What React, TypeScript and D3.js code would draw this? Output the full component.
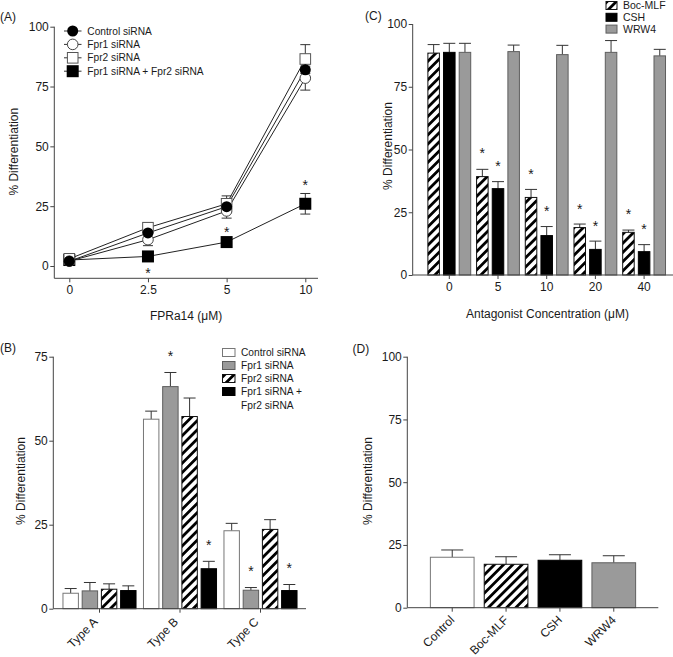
import React, { useEffect, useRef } from "react";
import * as d3 from "d3";

const FONT = "'Liberation Sans', Arial, Helvetica, sans-serif";
const AX = "#444";
const TXT = "#1a1a1a";
const GRAY = "#9a9a9a";
const GRAY_STROKE = "#5e5e5e";

// ---------- Panel A ----------
const doseLabels = ["0", "2.5", "5", "10"];
const lineNames = ["Control siRNA", "Fpr1 siRNA", "Fpr2 siRNA", "Fpr1 siRNA + Fpr2 siRNA"];
const controlMean = [2, 13.8, 24.8, 82];
const controlSem = [1, 2, 2, 3];
const fpr1Mean = [2, 11, 23, 78.5];
const fpr1Sem = [1, 2.5, 3, 5];
const fpr2Mean = [3, 16, 26, 86.5];
const fpr2Sem = [1.5, 2, 3.3, 6];
const doubleMean = [2.5, 4, 10, 26];
const doubleSem = [1, 1, 1.5, 4.3];
const aStarDose = ["2.5", "5", "10"];
const aStarValue = [-1.4, 15.5, 35.5];
const aTicks = [0, 25, 50, 75, 100];

// ---------- Panel B ----------
const bGroups = ["Type A", "Type B", "Type C"];
const bSeries = ["Control siRNA", "Fpr1 siRNA", "Fpr2 siRNA", "Fpr1 siRNA + Fpr2 siRNA"];
const bLegendLines = [["Control siRNA"], ["Fpr1 siRNA"], ["Fpr2 siRNA"], ["Fpr1 siRNA +", "Fpr2 siRNA"]];
const bControl = [4.6, 56.4, 23.2];
const bControlErr = [1.4, 2.4, 2.2];
const bFpr1 = [5.3, 66.1, 5.5];
const bFpr1Err = [2.5, 4.2, 0.8];
const bFpr2 = [5.8, 57.2, 23.6];
const bFpr2Err = [1.6, 5.5, 2.9];
const bDouble = [5.4, 11.9, 5.4];
const bDoubleErr = [1.4, 2.2, 1.8];
const bStarGroup = ["Type B", "Type B", "Type C", "Type C"];
const bStarSeries = ["Fpr1 siRNA", "Fpr1 siRNA + Fpr2 siRNA", "Fpr1 siRNA", "Fpr1 siRNA + Fpr2 siRNA"];
const bStarValue = [76.3, 20.1, 12.3, 13.2];
const bTicks = [0, 25, 50, 75];

// ---------- Panel C ----------
const cGroups = ["0", "5", "10", "20", "40"];
const cSeries = ["Boc-MLF", "CSH", "WRW4"];
const cBoc = [88.4, 39.2, 30.9, 18.9, 17];
const cBocErr = [3.4, 2.9, 3.2, 1.4, 0.9];
const cCsh = [88.7, 34.4, 15.7, 10.2, 9.3];
const cCshErr = [3.6, 2.8, 3.6, 3.3, 2.8];
const cWrw = [88.7, 89, 87.8, 88.7, 87.3];
const cWrwErr = [3.6, 2.6, 3.7, 4.7, 2.6];
const cStarGroup = ["5", "5", "10", "10", "20", "20", "40", "40"];
const cStarSeries = ["Boc-MLF", "CSH", "Boc-MLF", "CSH", "Boc-MLF", "CSH", "Boc-MLF", "CSH"];
const cStarValue = [49.9, 45, 41.8, 27, 27.6, 21, 25.6, 19.8];
const cTicks = [0, 25, 50, 75, 100];

// ---------- Panel D ----------
const dGroups = ["Control", "Boc-MLF", "CSH", "WRW4"];
const dMean = [20.1, 17.3, 18.9, 17.9];
const dErr = [2.9, 3.0, 2.2, 2.8];
const dTicks = [0, 25, 50, 75, 100];

type Sel = d3.Selection<SVGGElement, unknown, null, undefined>;

const fills: Record<string, { fill: string; stroke: string }> = {
  white: { fill: "#fff", stroke: "#777" },
  gray: { fill: GRAY, stroke: GRAY_STROKE },
  hatch: { fill: "url(#hatch)", stroke: "#111" },
  black: { fill: "#000", stroke: "#000" },
};

function yAxis(g: Sel, y: d3.ScaleLinear<number, number>, x: number, ticks: number[], top: number, bottom: number) {
  const ax = g
    .append("g")
    .attr("transform", `translate(${x},0)`)
    .call(d3.axisLeft(y).tickValues(ticks).tickSize(4).tickPadding(1.5).tickFormat(d3.format("d")));
  ax.attr("font-family", FONT).attr("font-size", 12);
  ax.select(".domain").remove();
  ax.append("line").attr("x1", 0).attr("x2", 0).attr("y1", top).attr("y2", bottom).attr("stroke", AX);
  ax.selectAll(".tick line").attr("stroke", AX);
  ax.selectAll(".tick text").attr("fill", TXT);
  return ax;
}

function xAxis(g: Sel, x: any, y0: number, left: number, right: number) {
  const ax = g
    .append("g")
    .attr("transform", `translate(0,${y0})`)
    .call(d3.axisBottom(x).tickSize(4).tickPadding(3));
  ax.attr("font-family", FONT).attr("font-size", 12);
  ax.select(".domain").remove();
  ax.append("line").attr("x1", left).attr("x2", right).attr("y1", 0).attr("y2", 0).attr("stroke", AX);
  ax.selectAll(".tick line").attr("stroke", AX);
  ax.selectAll(".tick text").attr("fill", TXT);
  return ax;
}

function text(g: Sel, x: number, y: number, s: string, size = 12, anchor = "start", rotate = 0) {
  g.append("text")
    .attr("transform", `translate(${x},${y}) rotate(${rotate})`)
    .attr("text-anchor", anchor)
    .attr("font-family", FONT)
    .attr("font-size", size)
    .attr("fill", TXT)
    .text(s);
}

function star(g: Sel, x: number, yc: number) {
  g.append("text")
    .attr("x", x)
    .attr("y", yc + 8.5)
    .attr("text-anchor", "middle")
    .attr("font-family", FONT)
    .attr("font-size", 14)
    .attr("fill", TXT)
    .text("*");
}

function barWithErr(g: Sel, x: number, w: number, y: d3.ScaleLinear<number, number>, v: number, e: number, style: string, cap: number) {
  const base = y(0);
  const f = fills[style];
  g.append("line")
    .attr("x1", x + w / 2)
    .attr("x2", x + w / 2)
    .attr("y1", y(v))
    .attr("y2", y(v + e))
    .attr("stroke", "#333");
  g.append("line")
    .attr("x1", x + w / 2 - cap / 2)
    .attr("x2", x + w / 2 + cap / 2)
    .attr("y1", y(v + e))
    .attr("y2", y(v + e))
    .attr("stroke", "#333");
  g.append("rect")
    .attr("x", x + 0.5)
    .attr("y", y(v))
    .attr("width", w - 1)
    .attr("height", base - y(v))
    .attr("fill", f.fill)
    .attr("stroke", f.stroke)
    .attr("stroke-width", 1);
}

function marker(g: Sel, kind: number, cx: number, cy: number) {
  if (kind === 0) g.append("circle").attr("cx", cx).attr("cy", cy).attr("r", 5.5).attr("fill", "#000");
  else if (kind === 1)
    g.append("circle").attr("cx", cx).attr("cy", cy).attr("r", 5.3).attr("fill", "#fff").attr("stroke", "#444");
  else if (kind === 2)
    g.append("rect").attr("x", cx - 5.3).attr("y", cy - 5.3).attr("width", 10.6).attr("height", 10.6).attr("fill", "#fff").attr("stroke", "#555");
  else g.append("rect").attr("x", cx - 6).attr("y", cy - 6).attr("width", 12).attr("height", 12).attr("fill", "#000");
}

function draw(svgEl: SVGSVGElement) {
  const svg = d3.select(svgEl);
  svg.selectAll("*").remove();
  const defs = svg.append("defs");
  const pat = defs
    .append("pattern")
    .attr("id", "hatch")
    .attr("patternUnits", "userSpaceOnUse")
    .attr("width", 6.5)
    .attr("height", 6.5)
    .attr("patternTransform", "rotate(45)");
  pat.append("rect").attr("width", 6.5).attr("height", 6.5).attr("fill", "#fff");
  pat.append("rect").attr("x", 0).attr("width", 2.8).attr("height", 6.5).attr("fill", "#000");

  const root = svg.append("g") as unknown as Sel;

  // ================= Panel A =================
  {
    const g = root.append("g") as Sel;
    const x = d3.scalePoint<string>().domain(doseLabels).range([69.3, 305.3]);
    const y = d3.scaleLinear().domain([0, 100]).range([266, 26.7]);
    yAxis(g, y, 54.3, aTicks, 26.7, 278.3);
    xAxis(g, x, 278.3, 54.3, 318);
    text(g, 0, 21, "(A)", 12);
    text(g, 18, 151.7, "% Differentiation", 12, "middle", -90);
    text(g, 186, 320, "FPRa14 (\u03bcM)", 12, "middle");

    const means = [controlMean, fpr1Mean, fpr2Mean, doubleMean];
    const sems = [controlSem, fpr1Sem, fpr2Sem, doubleSem];
    const line = d3
      .line<number>()
      .x((_, i) => x(doseLabels[i]) as number)
      .y((d) => y(d));
    const order = [3, 2, 1, 0];
    order.forEach((k) => {
      g.append("path").attr("d", line(means[k]) as string).attr("fill", "none").attr("stroke", "#222").attr("stroke-width", 1);
    });
    order.forEach((k) => {
      means[k].forEach((m, i) => {
        const cx = x(doseLabels[i]) as number;
        const e = sems[k][i];
        g.append("line").attr("x1", cx).attr("x2", cx).attr("y1", y(m - e)).attr("y2", y(m + e)).attr("stroke", "#333");
        [m - e, m + e].forEach((v) =>
          g.append("line").attr("x1", cx - 5).attr("x2", cx + 5).attr("y1", y(v)).attr("y2", y(v)).attr("stroke", "#333")
        );
      });
    });
    order.forEach((k) => {
      means[k].forEach((m, i) => marker(g, k, x(doseLabels[i]) as number, y(m)));
    });
    aStarDose.forEach((d, i) => star(g, x(d) as number, y(aStarValue[i])));

    // legend
    lineNames.forEach((name, i) => {
      const cy = 31 + i * 13.4;
      g.append("line").attr("x1", 64).attr("x2", 81.5).attr("y1", cy).attr("y2", cy).attr("stroke", "#333");
      marker(g, i, 72.7, cy);
      text(g, 87.3, cy + 3.6, name, 10.2);
    });
  }

  // ================= Panel B =================
  {
    const g = root.append("g") as Sel;
    const x = d3.scaleBand<string>().domain(bGroups).range([59.25, 300.75]).paddingInner(0.08).paddingOuter(0.04);
    const xi = d3.scaleBand<string>().domain(bSeries).range([0, x.bandwidth()]).paddingInner(0.145);
    const y = d3.scaleLinear().domain([0, 75]).range([608.7, 356.7]);
    const vals = [bControl, bFpr1, bFpr2, bDouble];
    const errs = [bControlErr, bFpr1Err, bFpr2Err, bDoubleErr];
    const styles = ["white", "gray", "hatch", "black"];
    bGroups.forEach((grp, gi) => {
      bSeries.forEach((s, si) => {
        const bx = (x(grp) as number) + (xi(s) as number);
        barWithErr(g, bx, xi.bandwidth(), y, vals[si][gi], errs[si][gi], styles[si], 12);
      });
    });
    yAxis(g, y, 53.3, bTicks, 356.7, 608.7);
    const ax = xAxis(g, x, 608.7, 53.3, 306);
    ax.selectAll(".tick text")
      .attr("y", 0)
      .attr("dy", 0)
      .attr("text-anchor", "end")
      .attr("transform", "translate(-1,14) rotate(-45)");
    bStarGroup.forEach((grp, i) => {
      const cx = (x(grp) as number) + (xi(bStarSeries[i]) as number) + xi.bandwidth() / 2;
      star(g, cx, y(bStarValue[i]));
    });
    text(g, 0, 352, "(B)", 12);
    text(g, 25, 481, "% Differentiation", 12, "middle", -90);

    let row = 0;
    bLegendLines.forEach((lines, i) => {
      const cy = 352.5 + row * 13;
      const f = fills[styles[i]];
      g.append("rect").attr("x", 222.5).attr("y", cy - 4).attr("width", 12.5).attr("height", 8).attr("fill", f.fill).attr("stroke", f.stroke);
      lines.forEach((ln, j) => text(g, 241, cy + 3.6 + j * 13.5, ln, 10.2));
      row += lines.length;
    });
  }

  // ================= Panel C =================
  {
    const g = root.append("g") as Sel;
    const x = d3.scaleBand<string>().domain(cGroups).range([424.95, 668.45]).paddingInner(0.1).paddingOuter(0.05);
    const xi = d3.scaleBand<string>().domain(cSeries).range([0, x.bandwidth()]).paddingInner(0.2);
    const y = d3.scaleLinear().domain([0, 100]).range([275, 24]);
    const vals = [cBoc, cCsh, cWrw];
    const errs = [cBocErr, cCshErr, cWrwErr];
    const styles = ["hatch", "black", "gray"];
    cGroups.forEach((grp, gi) => {
      cSeries.forEach((s, si) => {
        const bx = (x(grp) as number) + (xi(s) as number);
        barWithErr(g, bx, xi.bandwidth(), y, vals[si][gi], errs[si][gi], styles[si], 12);
      });
    });
    yAxis(g, y, 412.7, cTicks, 24, 275);
    const ax = xAxis(g, x, 275, 412.7, 673);
    ax.selectAll(".tick text").attr("y", 7).attr("dy", "0.71em");
    cStarGroup.forEach((grp, i) => {
      const cx = (x(grp) as number) + (xi(cStarSeries[i]) as number) + xi.bandwidth() / 2;
      star(g, cx, y(cStarValue[i]));
    });
    text(g, 365, 20, "(C)", 12);
    text(g, 391.5, 146, "% Differentiation", 12, "middle", -90);
    text(g, 547.5, 318, "Antagonist Concentration (\u03bcM)", 12, "middle");

    cSeries.forEach((s, i) => {
      const cy = 5.5 + i * 11.8;
      const f = fills[styles[i]];
      g.append("rect").attr("x", 606).attr("y", cy - 4).attr("width", 11).attr("height", 8).attr("fill", f.fill).attr("stroke", f.stroke);
      text(g, 623, cy + 3.8, s, 10.5);
    });
  }

  // ================= Panel D =================
  {
    const g = root.append("g") as Sel;
    const x = d3.scaleBand<string>().domain(dGroups).range([425.3, 640.7]).paddingInner(0.17).paddingOuter(0.085);
    const y = d3.scaleLinear().domain([0, 100]).range([607.7, 356.7]);
    const styles = ["white", "hatch", "black", "gray"];
    dGroups.forEach((grp, i) => {
      barWithErr(g, x(grp) as number, x.bandwidth(), y, dMean[i], dErr[i], styles[i], 22);
    });
    yAxis(g, y, 407.3, dTicks, 356.7, 607.7);
    const ax = xAxis(g, x, 607.7, 407.3, 658.3);
    ax.selectAll(".tick text")
      .attr("y", 0)
      .attr("dy", 0)
      .attr("text-anchor", "end")
      .attr("transform", "translate(3,13) rotate(-45)");
    text(g, 352.5, 353, "(D)", 12);
    text(g, 371.5, 481, "% Differentiation", 12, "middle", -90);
  }
}

export default function App() {
  const ref = useRef<SVGSVGElement>(null);
  useEffect(() => {
    if (ref.current) draw(ref.current);
  }, []);
  return (
    <svg
      ref={ref}
      width={673}
      height={657}
      viewBox="0 0 673 657"
      style={{ position: "absolute", left: 0, top: 0, background: "#fff" }}
    />
  );
}
